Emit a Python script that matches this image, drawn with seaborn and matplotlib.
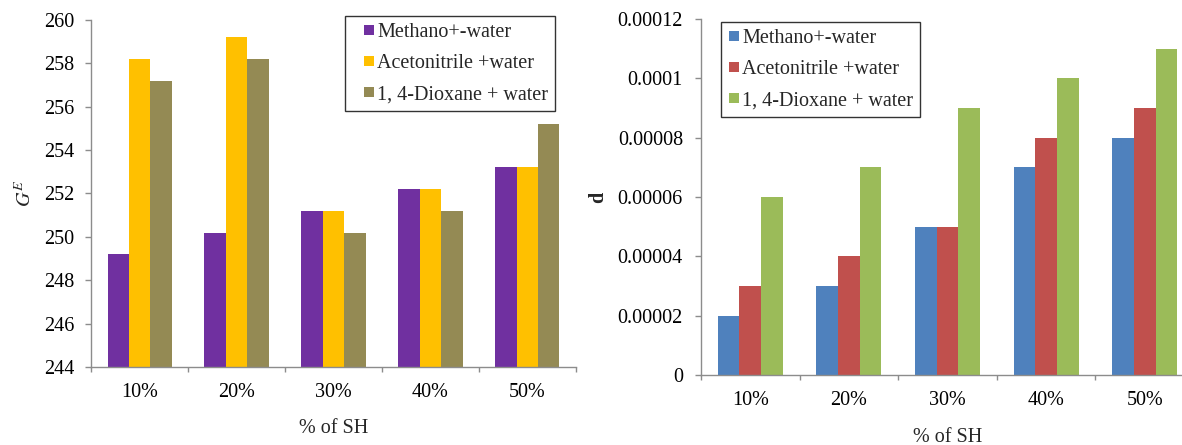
import matplotlib
matplotlib.use("Agg")
import matplotlib.pyplot as plt
import seaborn as sns
import pandas as pd
from matplotlib.ticker import FixedLocator, NullFormatter
from matplotlib.patches import Rectangle
from matplotlib.legend_handler import HandlerPatch

categories = ["10%", "20%", "30%", "40%", "50%"]
series_names = ["Methano+-water", "Acetonitrile +water", "1, 4-Dioxane + water"]

ge_methanol = [249.2, 250.2, 251.2, 252.2, 253.2]
ge_acetonitrile = [258.2, 259.2, 251.2, 252.2, 253.2]
ge_dioxane = [257.2, 258.2, 250.2, 251.2, 255.2]

d_methanol = [0.00002, 0.00003, 0.00005, 0.00007, 0.00008]
d_acetonitrile = [0.00003, 0.00004, 0.00005, 0.00008, 0.00009]
d_dioxane = [0.00006, 0.00007, 0.00009, 0.00010, 0.00011]

left_ticks = [244, 246, 248, 250, 252, 254, 256, 258, 260]
right_ticks = [0, 0.00002, 0.00004, 0.00006, 0.00008, 0.0001, 0.00012]
right_ticklabels = ["0", "0.00002", "0.00004", "0.00006", "0.00008", "0.0001", "0.00012"]

left_colors = ["#7030A0", "#FFC000", "#948A54"]
right_colors = ["#4F81BD", "#C0504D", "#9BBB59"]


def long_df(a, b, c):
    rows = []
    for name, vals in zip(series_names, [a, b, c]):
        for cat, v in zip(categories, vals):
            rows.append({"cat": cat, "series": name, "value": v})
    return pd.DataFrame(rows)


def square_patch(legend, orig_handle, xdescent, ydescent, width, height, fontsize):
    s = 0.5 * fontsize
    return Rectangle((-xdescent + width - s, -ydescent + (height - s) / 2), s, s)


FS = 14.5

sns.set_theme(style="white")
plt.rcParams["font.family"] = ["Liberation Serif", "DejaVu Serif"]
plt.rcParams["mathtext.fontset"] = "stix"

fig = plt.figure(figsize=(11.82, 4.45), dpi=100)
ax1 = fig.add_axes([0.0770, 0.1753, 0.4103, 0.7798])
ax2 = fig.add_axes([0.5931, 0.1573, 0.4171, 0.8000])

configs = [
    (ax1, long_df(ge_methanol, ge_acetonitrile, ge_dioxane), left_colors,
     dict(loc="upper left", bbox_to_anchor=(0.5237, 1.0115), handlelength=1.1, borderpad=0.35)),
    (ax2, long_df(d_methanol, d_acetonitrile, d_dioxane), right_colors,
     dict(loc="upper left", bbox_to_anchor=(0.0406, 0.9916), handlelength=0.55, borderpad=0.35)),
]

for ax, df, cols, legkw in configs:
    sns.barplot(data=df, x="cat", y="value", hue="series", palette=cols,
                width=0.66, gap=0, saturation=1, ax=ax, errorbar=None,
                linewidth=0)
    for s in ["top", "right"]:
        ax.spines[s].set_visible(False)
    for s in ["left", "bottom"]:
        ax.spines[s].set_color("#8c8c8c")
        ax.spines[s].set_linewidth(1.0)
    ax.set_xlim(-0.5, 4.5)
    ax.xaxis.set_minor_locator(FixedLocator([-0.5, 0.5, 1.5, 2.5, 3.5, 4.5]))
    ax.xaxis.set_minor_formatter(NullFormatter())
    ax.tick_params(axis="x", which="major", length=0, pad=11.5, labelsize=FS, colors="black")
    ax.tick_params(axis="x", which="minor", length=3.6, width=1, color="#8c8c8c",
                   direction="out", bottom=True)
    ax.tick_params(axis="y", length=4, width=1, color="#8c8c8c", direction="out", left=True,
                   labelsize=FS, colors="black")
    leg = ax.legend(frameon=True, fancybox=False, fontsize=FS,
                    handleheight=0.5, handletextpad=0.15,
                    labelspacing=0.6, borderaxespad=0,
                    handler_map={Rectangle: HandlerPatch(patch_func=square_patch)},
                    **legkw)
    leg.get_frame().set_edgecolor("black")
    leg.get_frame().set_linewidth(1.0)

ax1.set_ylim(244, 260)
ax1.set_yticks(left_ticks)
ax1.set_yticklabels([str(t) for t in left_ticks])
ax1.tick_params(axis="y", pad=8)
ax1.set_ylabel(r"$G^{E}$", fontsize=FS, labelpad=6)
ax1.set_xlabel("% of SH", fontsize=FS, labelpad=12.5)

ax2.set_ylim(0, 0.00012)
ax2.set_yticks(right_ticks)
ax2.set_yticklabels(right_ticklabels)
ax2.tick_params(axis="y", pad=9)
ax2.set_ylabel("d", fontsize=FS, fontweight="bold", labelpad=7)
ax2.set_xlabel("% of SH", fontsize=FS, labelpad=13)

fig.savefig("out.png", dpi=100)
